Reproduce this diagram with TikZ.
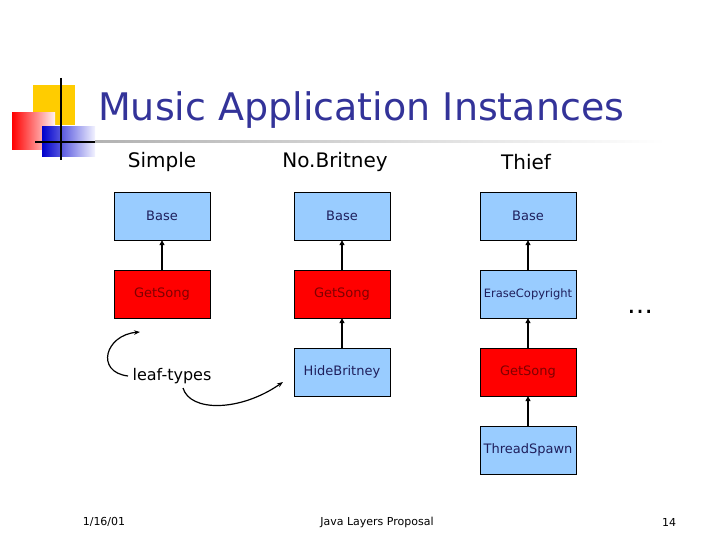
\documentclass[tikz,border=0pt]{standalone}
\usepackage{fontspec}
\setmainfont{DejaVu Sans}
\usetikzlibrary{arrows.meta}
\definecolor{boxblue}{HTML}{99CCFF}
\definecolor{titleblue}{HTML}{333399}
\definecolor{logoyellow}{HTML}{FFCC00}
\begin{document}
\begin{tikzpicture}[x=1pt,y=-1pt,
  box/.style={draw, minimum width=96pt, minimum height=48pt, inner sep=0pt, font=\fontsize{13}{15}\selectfont},
  bluebox/.style={box, fill=boxblue, text=titleblue!60!black},
  redbox/.style={box, fill=red, text=red!50!black},
  head/.style={font=\fontsize{20}{24}\selectfont},
  inh/.style={-{Triangle[length=5pt,width=5pt]}, line width=1.3pt},
  foot/.style={font=\fontsize{11}{13}\selectfont}]
\useasboundingbox (0,0) rectangle (720,540);
% logo
\fill[logoyellow] (33,85) rectangle (75,125);
\fill[left color=red, right color=red!5] (12,113) rectangle (55,150);
\fill[left color=blue!80!black, right color=blue!5] (42,127) rectangle (95,157);
\draw[line width=2pt] (61,78) -- (61,160);
\draw[line width=1.5pt] (35,142) -- (95,142);
\shade[left color=gray!60, right color=white] (95,141) rectangle (665,143);
\node[anchor=west, text=titleblue, font=\fontsize{38}{44}\selectfont, inner sep=0pt] (title) at (98,110) {Music Application Instances};
\node[head] (h1) at (162,162) {Simple};
\node[head] (h2) at (335,162) {No.Britney};
\node[head] (h3) at (526,162) {Thief};
\node[bluebox] (a1) at (162,216) {Base};
\node[redbox] (a2) at (162,294) {GetSong};
\node[bluebox] (b1) at (342,216) {Base};
\node[redbox] (b2) at (342,294) {GetSong};
\node[bluebox] (b3) at (342,372) {HideBritney};
\node[bluebox] (c1) at (528,216) {Base};
\node[bluebox, font=\fontsize{11.5}{14}\selectfont] (c2) at (528,294) {EraseCopyright};
\node[redbox] (c3) at (528,372) {GetSong};
\node[bluebox] (c4) at (528,450) {ThreadSpawn};
\draw[inh] (a2) -- (a1);
\draw[inh] (b2) -- (b1);
\draw[inh] (b3) -- (b2);
\draw[inh] (c2) -- (c1);
\draw[inh] (c3) -- (c2);
\draw[inh] (c4) -- (c3);
\node[font=\fontsize{16}{18}\selectfont] (leaf) at (172,376) {leaf-types};
\node[font=\fontsize{26}{26}\selectfont] (dots) at (640,312) {\dots};
\coordinate (l1) at (128,376);
\coordinate (t1) at (140,332);
\coordinate (l2) at (183,388);
\coordinate (t2) at (283,382);
\draw[-{Stealth[length=6pt]}, line width=1.2pt] (l1) .. controls (95,372) and (105,335) .. (t1);
\draw[-{Stealth[length=6pt]}, line width=1.2pt] (l2) .. controls (190,412) and (240,412) .. (t2);
\node[foot] (f1) at (104,522) {1/16/01};
\node[foot] (f2) at (377,522) {Java Layers Proposal};
\node[foot] (f3) at (669,522) {14};
\end{tikzpicture}
\end{document}
